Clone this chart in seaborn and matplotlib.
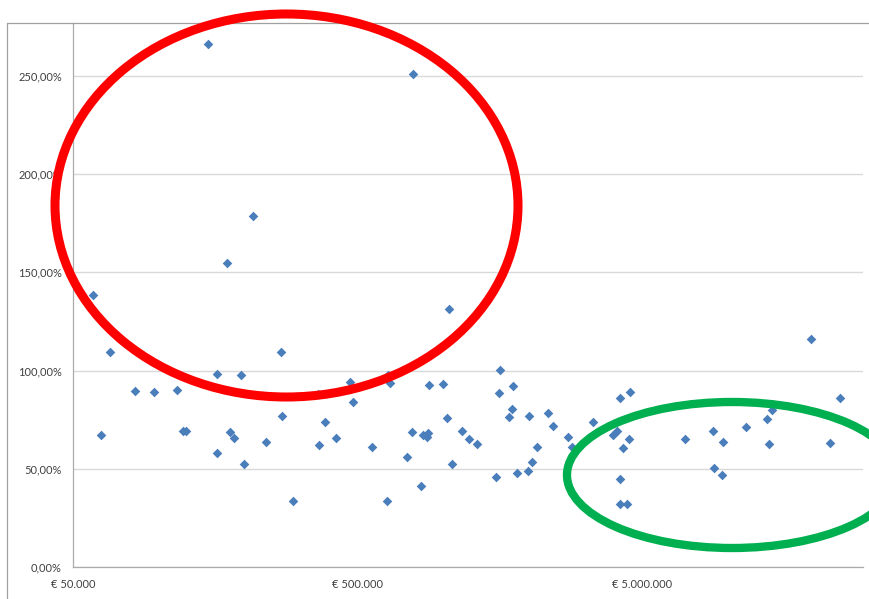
import matplotlib
matplotlib.use("Agg")
import matplotlib.pyplot as plt
from matplotlib.patches import Ellipse
from matplotlib.lines import Line2D
from matplotlib.ticker import FixedLocator, FuncFormatter, NullLocator
import pandas as pd
import seaborn as sns

# Investment amount (EUR) per project
bedrag = [
    58600, 67400, 62700, 82600, 96100, 116300, 122100, 124500, 148700, 160800,
    160800, 173900, 178600, 184500, 195200, 199500, 215100, 238400, 268600, 272100,
    297400, 364100, 367000, 385300, 419100,
    470500, 480900, 562300, 636400, 642600, 650400, 744600, 777300, 785500, 838100,
    851700, 875500, 887000, 891900, 1001000, 1037000, 1048000, 1077000, 1167000, 1236000,
    1315000, 1537000, 1575000, 1593000, 1704000, 1742000, 1764000, 1818000, 1987000, 2009000,
    2064000, 2133000, 2342000, 2439000, 2763000, 2844000, 3372000,
    3963000, 4084000, 4185000, 4538000, 4297000, 4208000, 4185000, 4429000, 4502000, 7081000,
    8932000, 9634000, 8953000, 9612000, 11630000, 13780000, 14350000, 13980000, 19750000, 24830000,
    22900000,
]

# Ratio per project, in percent
rendement = [
    138.5, 109.3, 67.1, 89.6, 89.1, 90.1, 69.4, 69.4, 266.3, 98.3,
    57.9, 154.8, 68.9, 65.5, 97.6, 52.3, 178.9, 63.8, 109.3, 77.0,
    33.4, 88.1, 62.1, 74.0, 65.5,
    94.0, 84.2, 61.3, 33.6, 97.8, 93.5, 55.9, 68.6, 251.0, 41.2,
    67.2, 66.3, 68.1, 92.5, 93.2, 76.0, 131.2, 52.4, 69.2, 65.2,
    62.5, 46.0, 88.7, 100.3, 76.5, 80.4, 92.2, 48.0, 49.0, 76.9,
    53.6, 61.3, 78.3, 71.8, 66.0, 61.3, 73.7,
    67.2, 69.5, 85.9, 89.1, 60.6, 44.7, 32.1, 32.3, 65.2, 65.0,
    69.2, 63.8, 50.6, 46.8, 71.4, 75.5, 79.9, 62.8, 116.1, 86.2,
    63.1,
]

x_ticks = [50_000, 500_000, 5_000_000]
y_ticks = [0, 50, 100, 150, 200, 250]

sns.set_style("white")
plt.rcParams["font.family"] = ["Lato", "DejaVu Sans"]

W, H = 869, 599
fig = plt.figure(figsize=(W / 100, H / 100), dpi=100)
fig.patch.set_facecolor("white")

# plot area in pixel terms: left 73, right 863, top 23, bottom 567
ax = fig.add_axes([73 / W, 32 / H, (863 - 73) / W, (576 - 32) / H])

df = pd.DataFrame({"bedrag": bedrag, "rendement": rendement})
sns.scatterplot(data=df, x="bedrag", y="rendement", marker="D", s=24,
                color="#4A7EBB", linewidth=0, ax=ax, zorder=3)

ax.set_xscale("log")
ax.set_xlim(50_000, 30_000_000)
ax.set_ylim(0, 277)

ax.xaxis.set_major_locator(FixedLocator(x_ticks))
ax.xaxis.set_minor_locator(NullLocator())
ax.xaxis.set_major_formatter(FuncFormatter(lambda v, p: "€ " + f"{v:,.0f}".replace(",", ".")))
ax.yaxis.set_major_locator(FixedLocator(y_ticks))
ax.yaxis.set_major_formatter(FuncFormatter(lambda v, p: f"{v:.2f}%".replace(".", ",")))

ax.set_xlabel("")
ax.set_ylabel("")

ax.yaxis.grid(True, color="#D9D9D9", linewidth=1.0)
ax.xaxis.grid(False)
ax.set_axisbelow(True)

axis_grey = "#ABABAB"
for side in ("top", "right"):
    ax.spines[side].set_visible(False)
for side in ("left", "bottom"):
    ax.spines[side].set_color(axis_grey)
    ax.spines[side].set_linewidth(0.9)

ax.tick_params(axis="both", which="major", direction="out", length=3,
               width=0.9, color=axis_grey, labelsize=8, labelcolor="#404040")
ax.tick_params(axis="x", pad=6)
ax.tick_params(axis="y", pad=5)

# chart frame (top and left edges)
fx = lambda px: px / W
fy = lambda py: 1 - py / H
fig.add_artist(Line2D([fx(7), 1.0], [fy(23), fy(23)], color="#A0A0A0", lw=0.9))
fig.add_artist(Line2D([fx(7), fx(7)], [fy(23), 0.0], color="#A0A0A0", lw=0.9))

# highlighted groups
red = Ellipse((fx(286.5), fy(205.5)), width=463 / W, height=383 / H,
              transform=fig.transFigure, fill=False, edgecolor="#FF0000",
              linewidth=6.5, zorder=10)
green = Ellipse((fx(732), fy(475)), width=330 / W, height=146 / H,
                transform=fig.transFigure, fill=False, edgecolor="#00B050",
                linewidth=6.0, zorder=10)
fig.add_artist(red)
fig.add_artist(green)

fig.savefig("out.png", dpi=100, facecolor="white")
